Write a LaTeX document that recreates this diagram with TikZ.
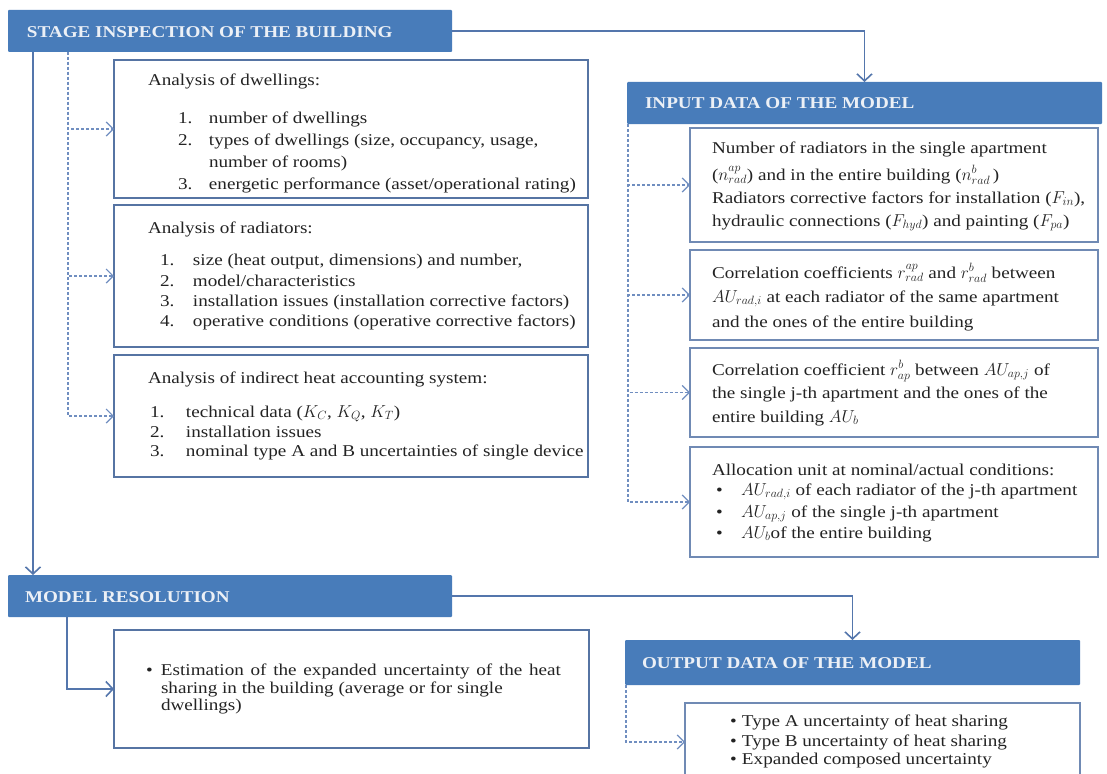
\documentclass[tikz,border=0pt]{standalone}
\usepackage{fontspec}
\setmainfont{Liberation Serif}[FakeStretch=1.16]
\usetikzlibrary{arrows.meta}
\definecolor{hdr}{RGB}{72,124,186}
\definecolor{bord}{RGB}{86,116,163}
\definecolor{rbord}{RGB}{112,138,180}
\definecolor{lnk}{RGB}{84,118,172}
\definecolor{dsh}{RGB}{112,142,192}
\definecolor{htext}{RGB}{236,240,246}
\definecolor{txt}{RGB}{35,35,35}
\newcommand\sline[2]{\makebox[#1][s]{#2}}
\begin{document}
\begin{tikzpicture}[x=1pt, y=-1pt,
  every node/.style={inner sep=0pt, outer sep=0pt},
  hbox/.style={fill=hdr, anchor=north west, rounded corners=1pt},
  htxt/.style={anchor=base west, text=htext, font=\fontsize{16.5}{18}\selectfont\bfseries},
  lbox/.style={draw=bord, line width=2.6pt, fill=white, anchor=north west},
  rbox/.style={draw=rbord, line width=1.4pt, fill=white, anchor=north west},
  tl/.style={anchor=base west, text=txt, font=\fontsize{16.5}{19}\selectfont},
  sln/.style={draw=lnk, line width=1.8pt, -{Straight Barb[length=7pt,width=15pt,line width=1.6pt]}},
  dln/.style={draw=dsh, line width=1.1pt, dash pattern=on 3pt off 2pt, -{Straight Barb[length=7pt,width=14pt,line width=1.2pt]}},
]
\useasboundingbox[fill=white] (0,0) rectangle (1107,773);

% headers
\node[hbox, minimum width=444pt, minimum height=42pt] (h1) at (8,10) {};
\node[hbox, minimum width=475pt, minimum height=42pt] (h2) at (627,82) {};
\node[hbox, minimum width=444pt, minimum height=42pt] (h3) at (8,575) {};
\node[hbox, minimum width=455pt, minimum height=45pt] (h4) at (625,640) {};
\node[htxt] (h1t) at (27,38) {STAGE INSPECTION OF THE BUILDING};
\node[htxt] (h2t) at (645,109) {INPUT DATA OF THE MODEL};
\node[htxt] (h3t) at (25,602) {MODEL RESOLUTION};
\node[htxt] (h4t) at (642,668) {OUTPUT DATA OF THE MODEL};

% left boxes
\node[lbox, minimum width=474pt, minimum height=138pt] (lb1) at (114,60) {};
\node[lbox, minimum width=474pt, minimum height=142pt] (lb2) at (114,205) {};
\node[lbox, minimum width=474pt, minimum height=122pt] (lb3) at (114,355) {};
% right boxes
\node[rbox, minimum width=408pt, minimum height=114pt] (ib1) at (690,128) {};
\node[rbox, minimum width=408pt, minimum height=90pt] (ib2) at (690,250) {};
\node[rbox, minimum width=408pt, minimum height=89pt] (ib3) at (690,348) {};
\node[rbox, minimum width=408pt, minimum height=110pt] (ib4) at (690,447) {};
% model resolution / output boxes
\node[lbox, minimum width=475pt, minimum height=118pt] (mb) at (114,630) {};
\node[rbox, minimum width=395pt, minimum height=78pt] (ob) at (685,703) {};

% connectors
\draw[sln] (h1.east) -| (h2.north);
\draw[sln] ([xshift=25pt]h1.south west) -- ([xshift=25pt]h3.north west);
\coordinate (dl) at ([xshift=60pt]h1.south west);
\draw[dln] (dl) |- (lb1.west);
\draw[dln] (dl) |- (lb2.west);
\draw[dln] (dl) |- (lb3.west);
\coordinate (dr) at ([xshift=1pt]h2.south west);
\draw[dln] (dr) |- (ib1.west);
\draw[dln] (dr) |- (ib2.west);
\draw[dln] (dr) |- (ib3.west);
\draw[dln] (dr) |- (ib4.west);
\draw[sln] (h3.east) -| (h4.north);
\draw[sln] ([xshift=59pt]h3.south west) |- (mb.west);
\draw[dln] ([xshift=1pt]h4.south west) |- (ob.west);

% left box texts
\node[tl] (l1a) at (148,86) {Analysis of dwellings:};
\node[tl] (l1b) at (178,123) {\makebox[31pt][l]{1.}number of dwellings};
\node[tl] (l1c) at (178,145) {\makebox[31pt][l]{2.}types of dwellings (size, occupancy, usage,};
\node[tl] (l1d) at (209,167) {number of rooms)};
\node[tl] (l1e) at (178,189) {\makebox[31pt][l]{3.}energetic performance (asset/operational rating)};

\node[tl] (l2a) at (148,233) {Analysis of radiators:};
\node[tl] (l2b) at (160,265) {\makebox[33pt][l]{1.}size (heat output, dimensions) and number,};
\node[tl] (l2c) at (160,286) {\makebox[33pt][l]{2.}model/characteristics};
\node[tl] (l2d) at (160,306) {\makebox[33pt][l]{3.}installation issues (installation corrective factors)};
\node[tl] (l2e) at (160,326) {\makebox[33pt][l]{4.}operative conditions (operative corrective factors)};

\node[tl] (l3a) at (148,383) {Analysis of indirect heat accounting system:};
\node[tl] (l3b) at (150,417) {\makebox[36pt][l]{1.}technical data ($K_C$, $K_Q$, $K_T$)};
\node[tl] (l3c) at (150,437) {\makebox[36pt][l]{2.}installation issues};
\node[tl] (l3d) at (150,456) {\makebox[36pt][l]{3.}nominal type A and B uncertainties of single device};

% right box texts
\node[tl] (r1a) at (712,153) {Number of radiators in the single apartment};
\node[tl] (r1b) at (712,180) {($n^{ap}_{rad}$) and in the entire building ($n^{b}_{rad}$\,)};
\node[tl] (r1c) at (712,203) {Radiators corrective factors for installation ($F_{in}$),};
\node[tl] (r1d) at (712,226) {hydraulic connections ($F_{hyd}$) and painting ($F_{pa}$)};

\node[tl] (r2a) at (712,278) {Correlation coefficients $r^{ap}_{rad}$ and $r^{b}_{rad}$ between};
\node[tl] (r2b) at (712,302) {$AU_{rad,i}$ at each radiator of the same apartment};
\node[tl] (r2c) at (712,327) {and the ones of the entire building};

\node[tl] (r3a) at (712,375) {Correlation coefficient $r^{b}_{ap}$ between $AU_{ap,j}$ of};
\node[tl] (r3b) at (712,398) {the single j-th apartment and the ones of the};
\node[tl] (r3c) at (712,422) {entire building $AU_b$};

\node[tl] (r4a) at (712,475) {Allocation unit at nominal/actual conditions:};
\node[tl] (r4b) at (716,495) {\makebox[25pt][l]{•}$AU_{rad,i}$ of each radiator of the j-th apartment};
\node[tl] (r4c) at (716,517) {\makebox[25pt][l]{•}$AU_{ap,j}$ of the single j-th apartment};
\node[tl] (r4d) at (716,538) {\makebox[25pt][l]{•}$AU_b$of the entire building};

% model resolution text
\node[tl] (m1) at (146,675) {\makebox[15pt][l]{•}\sline{400pt}{Estimation of the expanded uncertainty of the heat}};
\node[tl] (m2) at (161,693) {sharing in the building (average or for single};
\node[tl] (m3) at (161,710) {dwellings)};

% output text
\node[tl] (o1) at (730,726) {\makebox[12pt][l]{•}Type A uncertainty of heat sharing};
\node[tl] (o2) at (730,746) {\makebox[12pt][l]{•}Type B uncertainty of heat sharing};
\node[tl] (o3) at (730,764) {\makebox[12pt][l]{•}Expanded composed uncertainty};
\end{tikzpicture}
\end{document}
